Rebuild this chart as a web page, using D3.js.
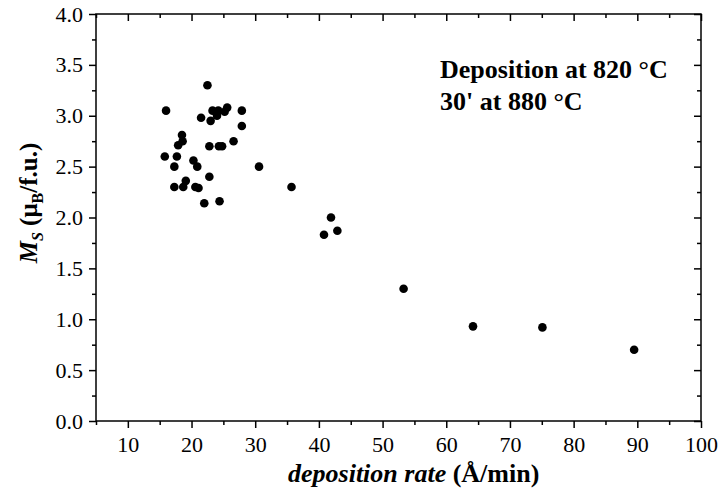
<!DOCTYPE html>
<html>
<head>
<meta charset="utf-8">
<script src="https://cdn.jsdelivr.net/npm/d3@7"></script>
<style>
  body { margin: 0; background: #fff; }
</style>
</head>
<body>
<svg id="chart" width="719" height="492" font-family="Liberation Serif"></svg>
<script>
// deposition rate (Å/min) and saturation magnetisation M_S (μB/f.u.)
const rate = [22.5, 16.0, 23.3, 24.2, 25.6, 25.2, 24.0, 27.9, 21.5, 23.0,
  27.9, 18.5, 18.6, 17.9, 26.6, 22.8, 24.3, 24.8, 15.8, 17.7,
  17.3, 20.3, 20.9, 30.6, 22.8, 17.3, 18.7, 19.1, 20.6, 21.1,
  35.7, 22.0, 24.4, 41.9, 40.8, 42.9, 53.3, 64.2, 75.1, 89.5];
const ms = [3.30, 3.05, 3.05, 3.05, 3.08, 3.04, 3.00, 3.05, 2.98, 2.95,
  2.90, 2.81, 2.75, 2.71, 2.75, 2.70, 2.70, 2.70, 2.60, 2.60,
  2.50, 2.56, 2.50, 2.50, 2.40, 2.30, 2.30, 2.36, 2.30, 2.29,
  2.30, 2.14, 2.16, 2.00, 1.83, 1.87, 1.30, 0.93, 0.92, 0.70];

const xMajor = [10, 20, 30, 40, 50, 60, 70, 80, 90, 100];
const xMinor = [5, 15, 25, 35, 45, 55, 65, 75, 85, 95];
const yMajor = [0, 0.5, 1, 1.5, 2, 2.5, 3, 3.5, 4];
const yMinor = [0.25, 0.75, 1.25, 1.75, 2.25, 2.75, 3.25, 3.75];
const noteLines = ["Deposition at 820 °C", "30' at 880 °C"];

const svg = d3.select("#chart");
const width = 719, height = 492;
const marginLeft = 96, marginRight = 18, marginTop = 14, marginBottom = 71;
const serif = "Liberation Serif";

const x = d3.scaleLinear().domain([5, 100]).range([marginLeft, width - marginRight]);
const y = d3.scaleLinear().domain([0, 4]).range([height - marginBottom, marginTop]);

const styleAxis = (g) => {
  g.attr("font-family", serif).attr("font-size", 22);
  g.select(".domain").remove();
  g.selectAll("line").attr("stroke", "#000").attr("stroke-width", 1.5);
  g.selectAll("text").attr("fill", "#000");
};

const major = 7, minor = 4;

// bottom axis (labels) + minor ticks
svg.append("g")
  .attr("transform", `translate(0,${y(0)})`)
  .call(d3.axisBottom(x).tickValues(xMajor).tickSize(major).tickPadding(8).tickFormat(d3.format("d")))
  .call(styleAxis);
svg.append("g")
  .attr("transform", `translate(0,${y(0)})`)
  .call(d3.axisBottom(x).tickValues(xMinor).tickSize(minor).tickFormat(""))
  .call(styleAxis);

// top axis, ticks inward
svg.append("g")
  .attr("transform", `translate(0,${y(4)})`)
  .call(d3.axisBottom(x).tickValues(xMajor).tickSize(major).tickFormat(""))
  .call(styleAxis);
svg.append("g")
  .attr("transform", `translate(0,${y(4)})`)
  .call(d3.axisBottom(x).tickValues(xMinor).tickSize(minor).tickFormat(""))
  .call(styleAxis);

// left axis (labels) + minor ticks
svg.append("g")
  .attr("transform", `translate(${x(5)},0)`)
  .call(d3.axisLeft(y).tickValues(yMajor).tickSize(major).tickPadding(6).tickFormat(d3.format(".1f")))
  .call(styleAxis);
svg.append("g")
  .attr("transform", `translate(${x(5)},0)`)
  .call(d3.axisLeft(y).tickValues(yMinor).tickSize(minor).tickFormat(""))
  .call(styleAxis);

// right axis, ticks inward
svg.append("g")
  .attr("transform", `translate(${x(100)},0)`)
  .call(d3.axisLeft(y).tickValues(yMajor).tickSize(major).tickFormat(""))
  .call(styleAxis);
svg.append("g")
  .attr("transform", `translate(${x(100)},0)`)
  .call(d3.axisLeft(y).tickValues(yMinor).tickSize(minor).tickFormat(""))
  .call(styleAxis);

// frame
svg.append("rect")
  .attr("x", x(5))
  .attr("y", y(4))
  .attr("width", x(100) - x(5))
  .attr("height", y(0) - y(4))
  .attr("fill", "none")
  .attr("stroke", "#000")
  .attr("stroke-width", 1.5);

// points
svg.append("g")
  .selectAll("circle")
  .data(d3.zip(rate, ms))
  .join("circle")
  .attr("cx", (d) => x(d[0]))
  .attr("cy", (d) => y(d[1]))
  .attr("r", 4.3)
  .attr("fill", "#000");

// annotation
svg.append("g")
  .selectAll("text")
  .data(noteLines)
  .join("text")
  .attr("x", 440)
  .attr("y", (d, i) => 78 + i * 32)
  .attr("font-family", serif)
  .attr("font-weight", "bold")
  .attr("font-size", 26)
  .text((d) => d);

// x title
const xt = svg.append("text")
  .attr("x", 288)
  .attr("y", 482)
  .attr("font-family", serif)
  .attr("font-weight", "bold")
  .attr("font-size", 26);
xt.append("tspan").attr("font-style", "italic").text("deposition rate");
xt.append("tspan").text(" (Å/min)");

// y title
const yt = svg.append("text")
  .attr("transform", "translate(37,203) rotate(-90)")
  .attr("text-anchor", "middle")
  .attr("font-family", serif)
  .attr("font-weight", "bold")
  .attr("font-size", 25);
yt.append("tspan").attr("font-style", "italic").text("M");
yt.append("tspan").attr("font-style", "italic").attr("dy", 6).attr("font-size", 16).text("S");
yt.append("tspan").attr("dy", -6).text(" (μ");
yt.append("tspan").attr("dy", 6).attr("font-size", 16).text("B");
yt.append("tspan").attr("dy", -6).text("/f.u.)");
</script>
</body>
</html>
